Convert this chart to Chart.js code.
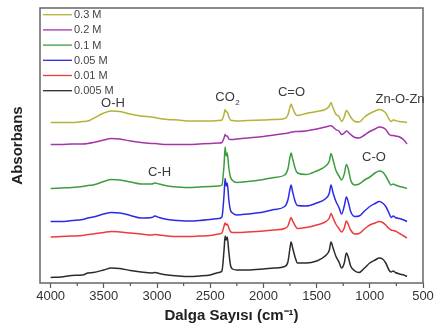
<!DOCTYPE html>
<html>
<head>
<meta charset="utf-8">
<script src="https://cdn.jsdelivr.net/npm/chart.js@4.4.1/dist/chart.umd.min.js"></script>
<style>
  html, body { margin: 0; padding: 0; background: #fff; }
</style>
</head>
<body>
<canvas id="ftirChart" width="437" height="330"></canvas>
<script>
// wavenumber grid (cm-1)
const wavenumbers = [4000, 3900, 3800, 3700, 3650, 3600, 3500, 3430, 3350, 3250, 3150, 3050, 3020, 2980, 2900, 2800, 2700, 2600, 2500, 2420,
    2390, 2370, 2360, 2350, 2340, 2325, 2310, 2290, 2250, 2150, 2000, 1900, 1800, 1770, 1750, 1740, 1725, 1700, 1680, 1600,
    1500, 1420, 1380, 1365, 1345, 1320, 1290, 1265, 1240, 1220, 1200, 1180, 1140, 1100, 1050, 1000, 950, 910, 880, 850,
    820, 800, 780, 760, 720, 680, 650];

// absorbance (a.u., stacked with offsets as in the figure)
const abs03 = [160.5, 160.5, 160.5, 161.5, 162, 164.5, 170, 172, 171.5, 169, 167, 166, 165.5, 164.5, 163.5, 163, 162, 162, 162, 162.5,
    163, 169, 173.5, 171, 171, 166, 163, 162.5, 162, 162.5, 163, 163.5, 164.5, 168, 176, 179, 175, 169, 167.5, 169.5,
    171.5, 173.5, 177, 180.5, 175, 169, 166.5, 161.5, 166, 172.5, 170, 166, 161.5, 161, 166, 169.5, 172, 173.5, 172.5, 170,
    164, 161.5, 163, 162.5, 161.5, 161, 160.5];
const abs02 = [138.5, 138.5, 139, 139, 139.5, 140.5, 143, 144.5, 144, 142, 140.5, 139.5, 139.5, 139, 138.5, 138.5, 138.5, 139, 139.5, 140,
    140.5, 145, 148.5, 147, 147, 144, 143.5, 143.5, 144, 145, 146.5, 148, 149.5, 150, 150.5, 151, 151, 151.5, 151.5, 152,
    154, 156, 157, 157.3, 156, 153.5, 152, 148.5, 150, 152, 150.5, 148.5, 145.5, 145, 148, 151.5, 154, 156, 155.5, 153.5,
    149, 147.5, 147.5, 147, 146, 143, 139];
const abs01 = [94.5, 95, 95.5, 96.5, 97.5, 98, 101.5, 103.5, 103, 101, 99, 99, 100, 99, 97, 96, 95.5, 96, 96.5, 97,
    98, 118, 136, 127, 130, 115, 106, 102.5, 100.5, 101.5, 103.5, 105.5, 108, 114, 126, 130, 124, 114, 110, 108.5,
    112, 116.5, 122, 129.5, 123, 113, 107, 103, 109, 118.5, 113, 103, 98, 99, 103, 106, 110, 112, 111, 107,
    101, 98, 99, 98, 96.5, 95.5, 94.5];
const abs005 = [61.5, 61.5, 62.5, 63.5, 65, 66, 69, 70.5, 70, 67.5, 65, 65.5, 67, 65.5, 63.5, 62.5, 62, 62.5, 63.5, 64.5,
    66, 88, 104.5, 97, 100, 83, 73, 70, 68, 69, 71, 73.5, 76.5, 83, 94, 98, 91, 81, 77.5, 77,
    80, 84, 90, 98, 90, 82, 75.5, 69, 77, 86, 80, 71.5, 66.5, 67, 72, 76.5, 79.5, 81.5, 80, 76.5,
    70, 65.5, 67, 65.5, 64.5, 63, 61.5];
const abs001 = [46, 46.5, 47, 47.5, 48.5, 49, 50.5, 51.5, 51, 50, 49, 48, 48.5, 48, 47, 46.5, 46.5, 47, 47.5, 49,
    50, 57, 60, 58, 59, 55, 51.5, 50.5, 50.5, 51, 52, 53, 54.5, 57, 63, 65.5, 62, 57, 54.5, 55.5,
    58, 61, 65, 69.5, 65, 59, 54.5, 51, 55, 62, 58, 53, 49, 49.5, 54, 58, 60, 61.5, 60.5, 58,
    54.5, 53, 52.5, 52, 49.5, 47, 45];
const abs0005 = [5.5, 6, 7.5, 8, 10, 10.5, 13, 15, 14.5, 12.5, 11, 10, 10.5, 9.5, 8, 7, 6.5, 7, 8, 10.5,
    12, 33, 47, 43, 46, 31, 18, 14, 13, 13, 14, 15, 16.5, 21, 35, 41, 35, 25, 20, 20,
    22, 27, 33, 41, 35, 27, 21, 15, 20, 30, 25, 17, 12, 10.5, 15, 20, 23, 25, 24, 20,
    13, 11, 12, 10.5, 9, 8, 6.5];

const seriesLabels = ['0.3 M', '0.2 M', '0.1 M', '0.05 M', '0.01 M', '0.005 M'];
const xTicks = [500, 1000, 1500, 2000, 2500, 3000, 3500, 4000];
const xMinorTicks = [750, 1250, 1750, 2250, 2750, 3250, 3750];

const bandLabels = [
    { text: 'O-H', x: 3414, y: 180 },
    { text: 'C-H', x: 2977, y: 111 },
    { text: 'CO', sub: '2', x: 2361, y: 185.7 },
    { text: 'C=O', x: 1736, y: 190.3 },
    { text: 'Zn-O-Zn', x: 716, y: 183.7 },
    { text: 'C-O', x: 961, y: 125.7 },
];

const FONT = "'Liberation Sans', Arial, sans-serif";
Chart.defaults.font.family = FONT;

function toPoints(arr) {
    return wavenumbers.map((w, i) => ({ x: w, y: arr[i] }));
}

const seriesData = [abs03, abs02, abs01, abs005, abs001, abs0005];
const seriesColors = ['#b5b23a', '#a335a8', '#3d9d3d', '#2b2be6', '#ee3b3b', '#2b2b2b'];

const datasets = seriesData.map((arr, i) => ({
    label: seriesLabels[i],
    data: toPoints(arr),
    borderColor: seriesColors[i],
    backgroundColor: seriesColors[i],
    borderWidth: 1.5,
    pointRadius: 0,
    cubicInterpolationMode: 'monotone',
    fill: false,
}));

// frame, minor ticks, legend box and band names
const decorPlugin = {
    id: 'decor',
    afterDraw(chart) {
        const { ctx, chartArea: a, scales: { x, y } } = chart;
        ctx.save();

        ctx.strokeStyle = '#666';
        ctx.lineWidth = 1.5;
        ctx.strokeRect(a.left, a.top, a.right - a.left, a.bottom - a.top);

        ctx.lineWidth = 1.2;
        ctx.strokeStyle = '#555';
        xMinorTicks.forEach(v => {
            const px = x.getPixelForValue(v);
            ctx.beginPath();
            ctx.moveTo(px, a.bottom);
            ctx.lineTo(px, a.bottom + 3);
            ctx.stroke();
        });

        // legend
        ctx.font = '11px ' + FONT;
        ctx.textBaseline = 'middle';
        ctx.textAlign = 'left';
        chart.data.datasets.forEach((ds, i) => {
            const ly = a.top + 6.7 + i * 15.2;
            ctx.strokeStyle = ds.borderColor;
            ctx.lineWidth = 1.3;
            ctx.beginPath();
            ctx.moveTo(a.left + 3, ly);
            ctx.lineTo(a.left + 32, ly);
            ctx.stroke();
            ctx.fillStyle = '#444';
            ctx.fillText(ds.label, a.left + 34, ly + 0.5);
        });

        // band assignments
        ctx.fillStyle = '#3a3a3a';
        ctx.textAlign = 'center';
        bandLabels.forEach(b => {
            const px = x.getPixelForValue(b.x);
            const py = y.getPixelForValue(b.y);
            ctx.font = '13px ' + FONT;
            if (b.sub) {
                const w = ctx.measureText(b.text).width;
                ctx.fillText(b.text, px, py);
                ctx.font = '8px ' + FONT;
                ctx.textAlign = 'left';
                ctx.fillText(b.sub, px + w / 2 + 0.5, py + 5);
                ctx.textAlign = 'center';
            } else {
                ctx.fillText(b.text, px, py);
            }
        });
        ctx.restore();
    }
};

new Chart(document.getElementById('ftirChart'), {
    type: 'line',
    data: { datasets: datasets },
    options: {
        responsive: false,
        animation: false,
        layout: { padding: { top: 8, right: 14, bottom: 0, left: 0 } },
        plugins: {
            legend: { display: false },
            tooltip: { enabled: false },
        },
        scales: {
            x: {
                type: 'linear',
                reverse: true,
                min: 500,
                max: 4100,
                afterBuildTicks: (scale) => {
                    scale.ticks = xTicks.map(v => ({ value: v }));
                },
                afterFit: (scale) => { scale.height = 47; },
                grid: {
                    display: true,
                    drawOnChartArea: false,
                    drawTicks: true,
                    tickLength: 5,
                    tickWidth: 1.2,
                    tickColor: '#555',
                },
                border: { display: false },
                ticks: {
                    color: '#333',
                    padding: 1,
                    maxRotation: 0,
                    font: { size: 13 },
                    callback: (v) => String(v),
                },
                title: {
                    display: true,
                    text: 'Dalga Sayısı (cm⁻¹)',
                    color: '#222',
                    font: { size: 15, weight: 'bold' },
                    padding: { top: 0, bottom: 5 },
                },
            },
            y: {
                min: 0,
                max: 275,
                afterFit: (scale) => { scale.width = 40; },
                grid: { display: false },
                border: { display: false },
                ticks: { display: false },
                title: {
                    display: true,
                    text: 'Absorbans',
                    color: '#222',
                    font: { size: 15, weight: 'bold' },
                    padding: { top: 9, bottom: 0 },
                },
            },
        },
    },
    plugins: [decorPlugin],
});
</script>
</body>
</html>
